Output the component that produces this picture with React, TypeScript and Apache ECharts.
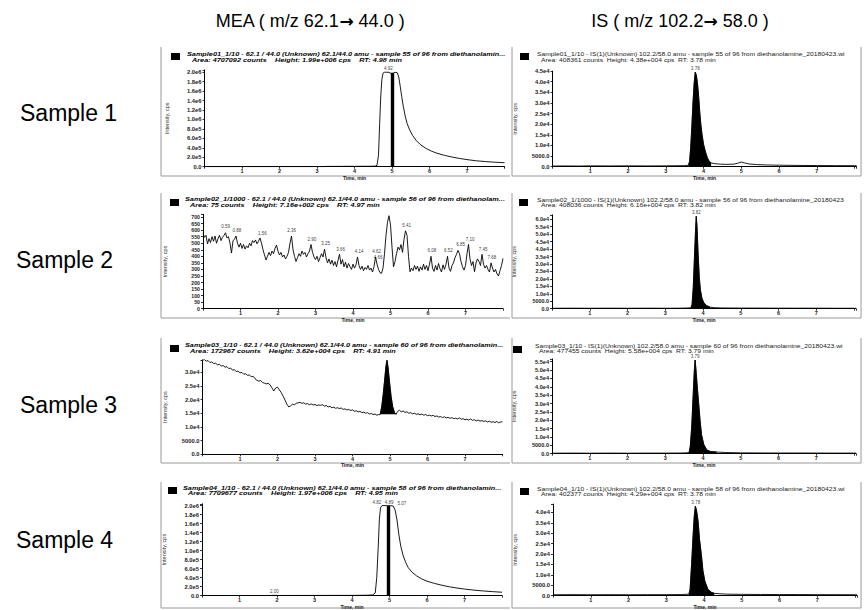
import React, { useEffect, useRef } from 'react';
import * as echarts from 'echarts';

type P = [number, number];
type L = [number, number, string];

// ---------- MEA traces ----------
const mea1: P[] = [[0,0],[3.2,0],[3.25,6000],[3.6,7000],[4.0,8000],[4.4,9000],[4.55,12000],[4.6,30000],[4.64,250000],[4.67,900000],[4.7,1500000],[4.73,1850000],[4.76,1980000],[4.8,2000000],[4.86,2000000],[4.92,2000000],[4.96,1980000],[5.0,1950000],[5.04,1985000],[5.08,2000000],[5.14,1990000],[5.18,1900000],[5.22,1700000],[5.26,1480000],[5.3,1280000],[5.35,1080000],[5.4,920000],[5.47,780000],[5.55,660000],[5.65,550000],[5.77,460000],[5.9,390000],[6.05,330000],[6.2,285000],[6.4,240000],[6.6,205000],[6.8,175000],[7.0,150000],[7.25,125000],[7.5,108000],[7.75,95000],[8.0,85000]];
const mea1Bar: P = [5.0, 1990000];
const mea1Labels: L[] = [[4.9, 2000000, '4.92']];

const mea2: P[] = [[0,575],[0.04,545],[0.08,560],[0.12,495],[0.16,535],[0.2,505],[0.24,550],[0.28,515],[0.32,555],[0.36,500],[0.4,535],[0.44,560],[0.48,520],[0.52,545],[0.56,560],[0.6,580],[0.64,540],[0.68,550],[0.72,500],[0.76,425],[0.8,520],[0.84,530],[0.88,555],[0.92,500],[0.96,470],[1.0,500],[1.04,460],[1.08,490],[1.12,455],[1.16,480],[1.2,465],[1.24,500],[1.28,480],[1.32,520],[1.36,505],[1.4,525],[1.44,495],[1.48,515],[1.52,540],[1.56,500],[1.6,450],[1.64,410],[1.68,372],[1.72,400],[1.76,430],[1.8,405],[1.84,440],[1.88,420],[1.92,460],[1.96,486],[2.0,440],[2.04,410],[2.08,430],[2.12,395],[2.16,410],[2.2,380],[2.24,400],[2.28,430],[2.32,500],[2.36,555],[2.4,450],[2.44,400],[2.48,360],[2.52,390],[2.56,420],[2.6,400],[2.64,440],[2.68,415],[2.72,430],[2.76,395],[2.8,420],[2.84,440],[2.88,490],[2.92,430],[2.96,395],[3.0,375],[3.04,400],[3.08,360],[3.12,390],[3.16,420],[3.2,395],[3.24,455],[3.28,390],[3.32,350],[3.36,380],[3.4,340],[3.44,370],[3.48,330],[3.52,360],[3.56,320],[3.6,370],[3.64,415],[3.68,340],[3.72,375],[3.76,320],[3.8,355],[3.84,310],[3.88,345],[3.92,320],[3.96,300],[4.0,340],[4.04,310],[4.08,335],[4.12,395],[4.16,330],[4.2,300],[4.24,325],[4.28,290],[4.32,315],[4.36,300],[4.4,330],[4.44,295],[4.48,310],[4.52,280],[4.56,320],[4.6,395],[4.64,340],[4.68,300],[4.72,275],[4.76,270],[4.8,310],[4.84,420],[4.88,560],[4.92,660],[4.96,710],[5.0,640],[5.04,470],[5.08,320],[5.12,360],[5.16,420],[5.2,470],[5.24,450],[5.28,490],[5.32,430],[5.36,530],[5.4,595],[5.44,560],[5.48,400],[5.52,282],[5.56,310],[5.6,290],[5.64,330],[5.68,300],[5.72,325],[5.76,285],[5.8,320],[5.84,295],[5.88,340],[5.92,300],[5.96,330],[6.0,290],[6.04,340],[6.08,400],[6.12,310],[6.16,285],[6.2,330],[6.24,295],[6.28,345],[6.32,305],[6.36,280],[6.4,335],[6.44,300],[6.48,340],[6.52,400],[6.56,310],[6.6,285],[6.64,330],[6.68,350],[6.72,390],[6.76,415],[6.8,445],[6.84,420],[6.88,360],[6.92,320],[6.96,295],[7.0,330],[7.04,420],[7.08,490],[7.12,380],[7.16,330],[7.2,360],[7.24,282],[7.28,350],[7.32,380],[7.36,360],[7.4,330],[7.44,415],[7.48,340],[7.52,310],[7.56,330],[7.6,300],[7.64,280],[7.68,350],[7.72,310],[7.76,280],[7.8,300],[7.84,265],[7.88,250],[7.92,290],[7.96,330],[8.0,384]];
const mea2Labels: L[] = [[0.6,600,'0.59'],[0.9,572,'0.88'],[1.58,549,'1.56'],[2.36,572,'2.36'],[2.9,503,'2.90'],[3.27,470,'3.25'],[3.67,427,'3.66'],[4.16,410,'4.14'],[4.63,410,'4.62'],[4.67,365,'4.66'],[4.99,725,'4.97'],[5.43,610,'5.41'],[6.1,415,'6.08'],[6.54,415,'6.52'],[6.87,460,'6.85'],[7.12,503,'7.10'],[7.47,427,'7.45'],[7.7,365,'7.68']];

const mea3Before: P[] = [[0,34300],[0.05,34600],[0.1,34000],[0.15,34200],[0.2,33500],[0.25,33700],[0.3,33100],[0.35,33300],[0.4,32600],[0.45,32900],[0.5,32200],[0.55,32400],[0.6,31800],[0.65,32000],[0.7,31300],[0.75,31500],[0.8,30700],[0.85,30900],[0.9,30200],[0.95,30400],[1.0,29700],[1.05,29900],[1.1,29200],[1.15,29400],[1.2,28800],[1.25,29000],[1.3,28300],[1.35,28500],[1.4,27600],[1.45,27000],[1.5,26700],[1.55,26900],[1.6,26200],[1.65,26000],[1.7,25700],[1.75,25900],[1.8,25400],[1.85,24300],[1.9,23100],[1.95,24200],[2.0,24500],[2.05,23500],[2.1,22500],[2.15,21200],[2.2,19800],[2.25,18300],[2.3,17300],[2.35,17700],[2.4,18300],[2.45,18100],[2.5,18600],[2.55,18800],[2.6,19000],[2.65,18600],[2.7,18800],[2.75,18300],[2.8,18500],[2.85,18100],[2.9,18400],[2.95,18000],[3.0,18200],[3.05,17800],[3.1,18000],[3.15,17900],[3.2,18100],[3.25,17600],[3.3,17800],[3.35,17300],[3.4,17500],[3.45,17000],[3.5,17200],[3.55,16800],[3.6,17000],[3.65,16700],[3.7,16900],[3.75,16400],[3.8,16600],[3.85,16200],[3.9,16400],[3.95,16000],[4.0,16200],[4.05,15700],[4.1,15900],[4.15,15500],[4.2,15700],[4.25,15200],[4.3,15400],[4.35,15000],[4.4,15200],[4.45,14700],[4.5,14900],[4.55,14500],[4.6,14700],[4.65,14300],[4.7,14500]];
const mea3Peak: P[] = [[4.74,14600],[4.78,17500],[4.82,22000],[4.86,27500],[4.89,32000],[4.92,34300],[4.95,31500],[4.99,26000],[5.03,21000],[5.07,17500],[5.12,15200],[5.16,14600]];
const mea3After: P[] = [[5.2,15600],[5.25,16100],[5.3,15500],[5.35,15800],[5.4,15300],[5.45,15500],[5.5,15000],[5.55,15200],[5.6,14800],[5.65,15000],[5.7,14600],[5.75,14800],[5.8,14400],[5.85,14700],[5.9,14300],[5.95,14500],[6.0,14100],[6.05,14300],[6.1,14000],[6.15,14200],[6.2,13800],[6.25,14000],[6.3,13600],[6.35,13800],[6.4,13400],[6.45,13700],[6.5,13300],[6.55,13500],[6.6,13100],[6.65,13400],[6.7,13000],[6.75,13200],[6.8,12900],[6.85,13300],[6.9,12800],[6.95,13000],[7.0,12600],[7.05,12800],[7.1,12500],[7.15,12900],[7.2,12400],[7.25,12600],[7.3,12200],[7.35,12500],[7.4,12100],[7.45,12300],[7.5,12000],[7.55,12200],[7.6,11800],[7.65,12100],[7.7,11700],[7.75,11900],[7.8,11600],[7.85,12000],[7.9,11500],[7.95,11800],[8.0,11900]];
const mea3Base = 14600;

const mea4: P[] = [[0,0],[1.0,1500],[1.8,2500],[1.93,6000],[2.05,2500],[3.0,3500],[4.0,5000],[4.4,8000],[4.55,15000],[4.62,60000],[4.66,400000],[4.7,1100000],[4.73,1700000],[4.76,1950000],[4.8,2000000],[4.88,2000000],[4.95,2000000],[5.02,2000000],[5.1,1990000],[5.15,1900000],[5.2,1680000],[5.25,1350000],[5.3,1100000],[5.36,900000],[5.43,740000],[5.5,620000],[5.6,520000],[5.72,440000],[5.86,370000],[6.0,320000],[6.2,270000],[6.4,230000],[6.6,195000],[6.8,168000],[7.0,145000],[7.25,122000],[7.5,103000],[7.75,88000],[8.0,75000]];
const mea4Bar: P = [4.97, 1990000];
const mea4Labels: L[] = [[4.66, 2000000, '4.82'], [4.99, 2000000, '4.89'], [5.33, 1970000, '5.07'], [1.93, 6000, '2.00']];

// ---------- IS traces ----------
const is1Before: P[] = [[0,300],[0.3,350],[0.7,300],[1.0,400],[1.5,350],[2.0,400],[2.5,350],[3.0,400],[3.3,450],[3.5,500],[3.6,700]];
const is1Peak: P[] = [[3.6,700],[3.63,2500],[3.66,9000],[3.69,19000],[3.72,30000],[3.75,39000],[3.78,44500],[3.81,43000],[3.84,39000],[3.87,33000],[3.9,25500],[3.93,19500],[3.96,15000],[4.0,10500],[4.05,7000],[4.1,4200],[4.15,2500],[4.2,1800]];
const is1After: P[] = [[4.3,1400],[4.45,1200],[4.6,1100],[4.8,1200],[4.9,1600],[5.0,2200],[5.08,1800],[5.2,1300],[5.4,1000],[5.7,800],[6.0,700],[6.5,600],[7.0,550],[7.5,500],[8.05,450]];
const is1Labels: L[] = [[3.78, 44500, '3.78']];

const is2Before: P[] = [[0,300],[0.5,350],[1,300],[1.5,350],[2,300],[2.5,350],[3,300],[3.4,350],[3.6,500],[3.68,600]];
const is2Peak: P[] = [[3.68,600],[3.71,3000],[3.74,14000],[3.77,33000],[3.8,52000],[3.82,62000],[3.84,55000],[3.87,36000],[3.9,21000],[3.93,12500],[3.97,7000],[4.02,4000],[4.1,2000],[4.19,1000]];
const is2After: P[] = [[4.3,700],[4.5,500],[5,400],[5.5,400],[6,350],[6.5,350],[7,350],[7.5,300],[8.05,300]];
const is2Labels: L[] = [[3.82, 62000, '3.82']];

const is3Before: P[] = [[0,300],[0.5,350],[1,300],[1.5,350],[2,300],[2.5,350],[3,350],[3.4,400],[3.55,500],[3.63,700]];
const is3Peak: P[] = [[3.63,700],[3.66,4000],[3.7,16000],[3.74,36000],[3.77,50000],[3.79,56000],[3.82,48000],[3.85,39000],[3.88,31000],[3.92,20000],[3.96,11200],[4.02,5500],[4.1,2200],[4.2,1300],[4.36,1000]];
const is3After: P[] = [[4.45,900],[4.6,700],[5,500],[5.5,450],[6,400],[6.5,400],[7,380],[7.5,350],[8.05,350]];
const is3Labels: L[] = [[3.79, 56000, '3.79']];

const is4Before: P[] = [[0,400],[0.5,450],[1,400],[1.5,450],[2,400],[2.5,450],[3,450],[3.4,500],[3.6,700]];
const is4Peak: P[] = [[3.6,700],[3.63,3000],[3.67,15000],[3.71,29000],[3.74,38000],[3.77,43000],[3.8,41000],[3.84,36000],[3.88,27000],[3.93,19400],[3.97,12000],[4.02,7000],[4.1,3100],[4.19,1600],[4.27,1100]];
const is4After: P[] = [[4.4,900],[4.6,700],[5,600],[5.5,550],[6,500],[6.5,500],[7,450],[7.5,450],[8.05,400]];
const is4Labels: L[] = [[3.78, 43000, '3.78']];

// ---------- texts ----------
const columnTitles = [['MEA ( m/z 62.1', '\u2192', ' 44.0 )'], ['IS ( m/z 102.2', '\u2192', ' 58.0 )']];
const rowTitles = ['Sample 1', 'Sample 2', 'Sample 3', 'Sample 4'];
const meaHeaders = [
  ['Sample01_1/10 - 62.1 / 44.0 (Unknown) 62.1/44.0 amu - sample 55 of 96 from diethanolamin...', 'Area: 4707092 counts    Height: 1.99e+006 cps    RT: 4.98 min'],
  ['Sample02_1/1000 - 62.1 / 44.0 (Unknown) 62.1/44.0 amu - sample 56 of 96 from diethanolam...', 'Area: 75 counts    Height: 7.16e+002 cps    RT: 4.97 min'],
  ['Sample03_1/10 - 62.1 / 44.0 (Unknown) 62.1/44.0 amu - sample 60 of 96 from diethanolamin...', 'Area: 172967 counts    Height: 3.62e+004 cps    RT: 4.91 min'],
  ['Sample04_1/10 - 62.1 / 44.0 (Unknown) 62.1/44.0 amu - sample 58 of 96 from diethanolamin...', 'Area: 7709677 counts    Height: 1.97e+006 cps    RT: 4.95 min'],
];
const isHeaders = [
  ['Sample01_1/10 - IS(1)(Unknown) 102.2/58.0 amu - sample 55 of 96 from diethanolamine_20180423.wi', 'Area: 408361 counts  Height: 4.38e+004 cps  RT: 3.78 min'],
  ['Sample02_1/1000 - IS(1)(Unknown) 102.2/58.0 amu - sample 56 of 96 from diethanolamine_20180423', 'Area: 408036 counts  Height: 6.16e+004 cps  RT: 3.82 min'],
  ['Sample03_1/10 - IS(1)(Unknown) 102.2/58.0 amu - sample 60 of 96 from diethanolamine_20180423.wi', 'Area: 477455 counts  Height: 5.58e+004 cps  RT: 3.79 min'],
  ['Sample04_1/10 - IS(1)(Unknown) 102.2/58.0 amu - sample 58 of 96 from diethanolamine_20180423.wi', 'Area: 402377 counts  Height: 4.29e+004 cps  RT: 3.78 min'],
];

const FONT = "'Liberation Sans', Arial, sans-serif";

function sciLabel(v: number): string {
  if (v === 0) return '0.0';
  if (v < 1e4) return v.toFixed(1);
  const e = Math.floor(Math.log10(v) + 1e-9);
  const m = v / Math.pow(10, e);
  return m.toFixed(1) + 'e' + e;
}

export default function App() {
  const ref = useRef<HTMLDivElement>(null);
  useEffect(() => {
    document.body.style.margin = '0';
    const chart = echarts.init(ref.current!, undefined, { renderer: 'svg' });

    // panel layout: order MEA1, IS1, MEA2, IS2, MEA3, IS3, MEA4, IS4
    const lay = [
      { left: 204.5, top: 69.9, width: 300, height: 96.8, xMax: 8, yMax: 2.05e6, yInt: 2e5, int: false, fs: 5.8 },
      { left: 552.5, top: 71.1, width: 304, height: 95.6, xMax: 8.05, yMax: 4.5e4, yInt: 5000, int: false, fs: 5.8 },
      { left: 203, top: 214.4, width: 300, height: 94.3, xMax: 8, yMax: 720, yInt: 50, int: true, fs: 5.2 },
      { left: 552, top: 214.8, width: 304, height: 93.9, xMax: 8.05, yMax: 6.3e4, yInt: 5000, int: false, fs: 5.4 },
      { left: 202.5, top: 359.8, width: 300, height: 94.5, xMax: 8, yMax: 3.45e4, yInt: 5000, int: false, fs: 5.8 },
      { left: 552, top: 358.9, width: 304, height: 94.8, xMax: 8.05, yMax: 5.67e4, yInt: 5000, int: false, fs: 5.6 },
      { left: 202, top: 503.8, width: 300, height: 94.5, xMax: 8, yMax: 2.04e6, yInt: 2e5, int: false, fs: 5.8 },
      { left: 553, top: 504.1, width: 304, height: 94.2, xMax: 8.05, yMax: 4.4e4, yInt: 5000, int: false, fs: 5.8 },
    ];

    const grid = lay.map((l) => ({ left: l.left, top: l.top, width: l.width, height: l.height, containLabel: false }));
    const axisStyle = { lineStyle: { color: '#000', width: 1 } };
    const xAxis = lay.map((l, i) => ({
      type: 'value', gridIndex: i, min: 0, max: l.xMax, interval: 1,
      axisLine: { show: true, onZero: false, ...axisStyle },
      axisTick: { show: true, length: 2, lineStyle: { color: '#000', width: 0.8 } },
      splitLine: { show: false },
      axisLabel: {
        fontSize: 5.5, color: '#222', fontFamily: FONT, margin: 1.5, fontWeight: 'bold',
        formatter: (v: number) => (v >= 1 && v <= 7 && Math.abs(v - Math.round(v)) < 1e-6 ? String(Math.round(v)) : ''),
      },
      name: 'Time, min', nameLocation: 'middle', nameGap: 4.5,
      nameTextStyle: { fontSize: 5, color: '#222', fontFamily: FONT, fontWeight: 'bold' },
    }));
    const yAxis = lay.map((l, i) => ({
      type: 'value', gridIndex: i, min: 0, max: l.yMax, interval: l.yInt,
      axisLine: { show: true, ...axisStyle },
      axisTick: { show: true, length: 2, lineStyle: { color: '#000', width: 0.8 } },
      splitLine: { show: false },
      axisLabel: {
        fontSize: l.fs, color: '#222', fontFamily: FONT, margin: 3, fontWeight: 'bold',
        formatter: (v: number) => {
          const r = v / l.yInt;
          if (Math.abs(r - Math.round(r)) > 1e-6) return '';
          return l.int ? String(Math.round(v)) : sciLabel(v);
        },
      },
      name: 'Intensity, cps', nameLocation: 'middle', nameGap: 35, nameRotate: 90,
      nameTextStyle: { fontSize: 5.5, color: '#333', fontFamily: FONT },
    }));

    const lineS = (i: number, data: P[], extra: any = {}) => ({
      type: 'line', xAxisIndex: i, yAxisIndex: i, data, symbol: 'none', showSymbol: false,
      lineStyle: { color: '#000', width: 0.9 }, silent: true, z: 3, ...extra,
    });
    const fillS = (i: number, data: P[], origin: any) => ({
      type: 'line', xAxisIndex: i, yAxisIndex: i, data, symbol: 'none', showSymbol: false,
      lineStyle: { color: '#000', width: 0.6 }, areaStyle: { color: '#000', opacity: 1, origin }, silent: true, z: 2,
    });
    const labS = (i: number, data: L[]) => ({
      type: 'scatter', xAxisIndex: i, yAxisIndex: i, data, symbolSize: 0.1, silent: true,
      itemStyle: { color: 'rgba(0,0,0,0)' },
      label: { show: true, position: 'top', distance: 1, fontSize: 4.5, color: '#000', fontFamily: FONT,
        formatter: (p: any) => p.data[2] },
    });
    const barML = (bar: P) => ({
      symbol: 'none', silent: true, label: { show: false },
      lineStyle: { color: '#000', width: 3.4, type: 'solid' },
      data: [[{ coord: [bar[0], 0] }, { coord: [bar[0], bar[1]] }]],
    });

    const series: any[] = [
      lineS(0, mea1, { markLine: barML(mea1Bar) }), labS(0, mea1Labels),
      lineS(1, [...is1Before, ...is1Peak, ...is1After]), fillS(1, is1Peak, 'start'), labS(1, is1Labels),
      lineS(2, mea2), labS(2, mea2Labels),
      lineS(3, [...is2Before, ...is2Peak, ...is2After]), fillS(3, is2Peak, 'start'), labS(3, is2Labels),
      lineS(4, [...mea3Before, ...mea3Peak, ...mea3After]), fillS(4, mea3Peak, mea3Base),
      lineS(5, [...is3Before, ...is3Peak, ...is3After]), fillS(5, is3Peak, 'start'), labS(5, is3Labels),
      lineS(6, mea4, { markLine: barML(mea4Bar) }), labS(6, mea4Labels),
      lineS(7, [...is4Before, ...is4Peak, ...is4After]), fillS(7, is4Peak, 'start'), labS(7, is4Labels),
    ];

    // ---- graphic decorations ----
    const g: any[] = [];
    const txt = (x: number, y: number, text: string, s: any, extra: any = {}) => ({
      type: 'text', x, y, silent: true,
      style: { text, fontFamily: FONT, fill: '#000', verticalAlign: 'middle', ...s },
      ...extra,
    });
    const titleRich = {
      a: { fontSize: 18, fontFamily: FONT, fill: '#000' },
      b: { fontSize: 17, fontFamily: "'DejaVu Sans', sans-serif", fontWeight: 'bold', fill: '#000' },
    };
    const titleX = [310, 680];
    columnTitles.forEach((t, c) => g.push(txt(titleX[c], 21, `{a|${t[0]}}{b|${t[1]}}{a|${t[2]}}`, { align: 'center', rich: titleRich })));
    const rowY = [113, 260, 405, 540];
    const rowX = [20, 16, 20, 16];
    rowTitles.forEach((t, r) => g.push(txt(rowX[r], rowY[r], t, { fontSize: 23, align: 'left' })));

    const meaHead = [
      { rx: 171, ry: 53, tx: 187, y1: 54.8 },
      { rx: 170, ry: 199, tx: 185, y1: 200 },
      { rx: 170, ry: 345, tx: 185, y1: 346 },
      { rx: 168, ry: 487, tx: 183, y1: 488.5 },
    ];
    const isHead = [
      { rx: 520, ry: 53, tx: 537, y1: 54.8 },
      { rx: 519, ry: 199, tx: 537, y1: 200 },
      { rx: 513, ry: 346, tx: 535, y1: 346 },
      { rx: 520, ry: 488, tx: 537, y1: 489 },
    ];
    const headGap = 5.4;
    meaHead.forEach((h, r) => {
      g.push({ type: 'rect', silent: true, shape: { x: h.rx, y: h.ry, width: 9, height: 7 }, style: { fill: '#000' } });
      const s = { fontSize: 4.5, fontWeight: 'bold', fontStyle: 'italic' };
      g.push(txt(h.tx, h.y1, meaHeaders[r][0], s, { scaleX: 1.62 }));
      g.push(txt(h.tx + 5, h.y1 + headGap, meaHeaders[r][1], s, { scaleX: 1.62 }));
    });
    isHead.forEach((h, r) => {
      g.push({ type: 'rect', silent: true, shape: { x: h.rx, y: h.ry, width: 9, height: 7 }, style: { fill: '#000' } });
      const s = { fontSize: 4.5, fill: '#222' };
      g.push(txt(h.tx, h.y1, isHeaders[r][0], s, { scaleX: 1.5 }));
      g.push(txt(h.tx + 4, h.y1 + headGap, isHeaders[r][1], s, { scaleX: 1.5 }));
    });

    // panel frames
    const rows = [
      { top: 47, bottom: 176 },
      { top: 193, bottom: 318 },
      { top: 338, bottom: 463 },
      { top: 482, bottom: 608 },
    ];
    const frame = { stroke: '#9a9a9a', lineWidth: 1 };
    rows.forEach((r) => {
      g.push({ type: 'line', silent: true, shape: { x1: 161, y1: r.top, x2: 161, y2: r.bottom }, style: frame });
      g.push({ type: 'line', silent: true, shape: { x1: 161, y1: r.bottom, x2: 510, y2: r.bottom }, style: frame });
      g.push({ type: 'line', silent: true, shape: { x1: 512, y1: r.top, x2: 512, y2: r.bottom }, style: frame });
      g.push({ type: 'line', silent: true, shape: { x1: 512, y1: r.bottom, x2: 861, y2: r.bottom }, style: frame });
      g.push({ type: 'line', silent: true, shape: { x1: 861, y1: r.top, x2: 861, y2: r.bottom }, style: frame });
    });

    chart.setOption({
      animation: false,
      backgroundColor: '#fff',
      grid, xAxis, yAxis, series, graphic: g,
    });
    return () => chart.dispose();
  }, []);
  return <div ref={ref} style={{ width: 865, height: 610 }} />;
}
